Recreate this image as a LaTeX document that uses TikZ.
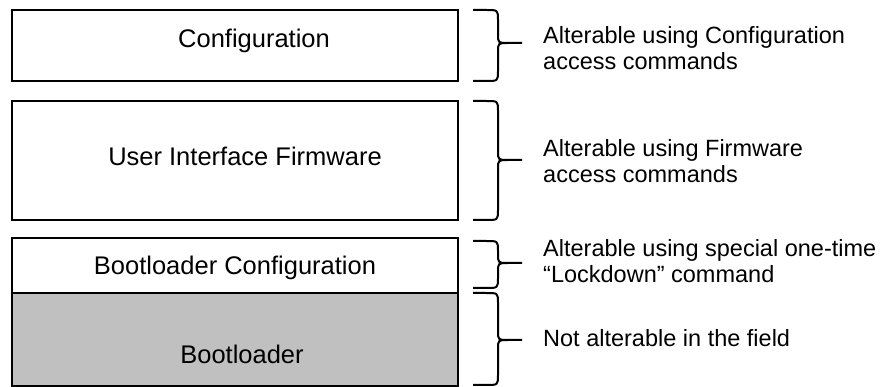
\documentclass[tikz,border=0pt]{standalone}
\usepackage{fontspec}
\setmainfont{Liberation Sans}
\begin{document}
\begin{tikzpicture}[x=1pt,y=-1pt,
  memblock/.style={draw=black,line width=2.5pt,inner sep=0pt},
  boxtext/.style={anchor=base,font=\fontsize{25.5}{30}\selectfont,inner sep=0pt},
  sidetext/.style={anchor=base west,font=\fontsize{23.5}{26}\selectfont,inner sep=0pt},
  bracepath/.style={line width=2pt,line join=round}]
\useasboundingbox (0,0) rectangle (884,387);
% memory blocks
\path[memblock] (12,10) rectangle (458,81) node[pos=.5,inner sep=0pt] (cfg) {};
\path[memblock] (12,101) rectangle (458,220) node[pos=.5,inner sep=0pt] (uif) {};
\path[memblock] (12,238) rectangle (458,293) node[pos=.5,inner sep=0pt] (bcfg) {};
\path[memblock,fill={rgb,255:red,192;green,192;blue,192}] (12,293) rectangle (458,386) node[pos=.5,inner sep=0pt] (boot) {};
% box labels
\node[boxtext] (lcfg) at (254,48) {Configuration};
\node[boxtext] (luif) at (245,166) {User Interface Firmware};
\node[boxtext] (lbcfg) at (235,275) {Bootloader Configuration};
\node[boxtext] (lboot) at (242,364) {Bootloader};
% braces
\foreach \T/\B/\M in {10/81/43, 101/220/160, 241/288/263, 293/385/340}{
  \draw[bracepath] (473,\T) -- (486,\T) .. controls (498,\T) .. (498,\T+10)
     -- (498,\M-9) .. controls (498,\M) .. (508,\M) -- (522,\M);
  \draw[bracepath] (473,\B) -- (486,\B) .. controls (498,\B) .. (498,\B-10)
     -- (498,\M+9) .. controls (498,\M) .. (508,\M);
}
% side texts
\node[sidetext] (s1a) at (543,44) {Alterable using Configuration};
\node[sidetext] (s1b) at (543,70) {access commands};
\node[sidetext] (s2a) at (543,157) {Alterable using Firmware};
\node[sidetext] (s2b) at (543,183) {access commands};
\node[sidetext] (s3a) at (543,257) {Alterable using special one-time};
\node[sidetext] (s3b) at (543,283) {“Lockdown” command};
\node[sidetext] (s4a) at (543,347) {Not alterable in the field};
\end{tikzpicture}
\end{document}
